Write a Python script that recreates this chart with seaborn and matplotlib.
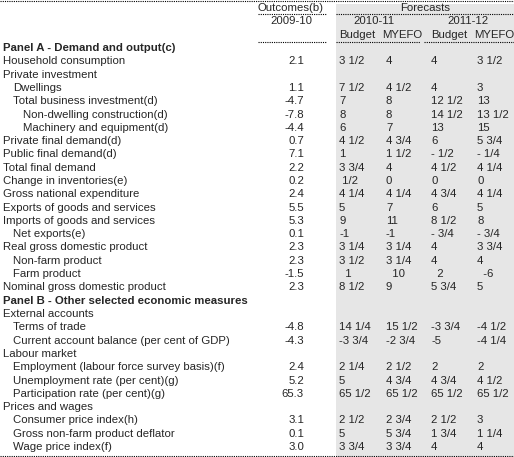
import matplotlib
matplotlib.use("Agg")
import matplotlib.pyplot as plt
import seaborn as sns

sns.set_theme(style="white")
plt.rcParams['font.family'] = ['Liberation Sans', 'DejaVu Sans']

# row labels, indent level, bold flag
labels = [
    "Panel A - Demand and output(c)", "Household consumption", "Private investment",
    "Dwellings", "Total business investment(d)", "Non-dwelling construction(d)",
    "Machinery and equipment(d)", "Private final demand(d)", "Public final demand(d)",
    "Total final demand", "Change in inventories(e)", "Gross national expenditure",
    "Exports of goods and services", "Imports of goods and services", "Net exports(e)",
    "Real gross domestic product", "Non-farm product", "Farm product",
    "Nominal gross domestic product", "Panel B - Other selected economic measures",
    "External accounts", "Terms of trade", "Current account balance (per cent of GDP)",
    "Labour market", "Employment (labour force survey basis)(f)",
    "Unemployment rate (per cent)(g)", "Participation rate (per cent)(g)",
    "Prices and wages", "Consumer price index(h)", "Gross non-farm product deflator",
    "Wage price index(f)",
]
indent = [0, 0, 0, 1, 1, 2, 2, 0, 0, 0, 0, 0, 0, 0, 1, 0, 1, 1, 0,
          0, 0, 1, 1, 0, 1, 1, 1, 0, 1, 1, 1]
bold_rows = [0, 19]

outcome_0910 = ["", "2.1", "", "1.1", "-4.7", "-7.8", "-4.4", "0.7", "7.1", "2.2", "0.2",
                "2.4", "5.5", "5.3", "0.1", "2.3", "2.3", "-1.5", "2.3", "", "",
                "-4.8", "-4.3", "", "2.4", "5.2", "65.3", "", "3.1", "0.1", "3.0"]
budget_1011 = ["", "3 1/2", "", "7 1/2", "7", "8", "6", "4 1/2", "1", "3 3/4", " 1/2",
               "4 1/4", "5", "9", "-1", "3 1/4", "3 1/2", "  1", "8 1/2", "", "",
               "14 1/4", "-3 3/4", "", "2 1/4", "5", "65 1/2", "", "2 1/2", "5", "3 3/4"]
myefo_1011 = ["", "4", "", "4 1/2", "8", "8", "7", "4 3/4", "1 1/2", "4", "0",
              "4 1/4", "7", "11", "-1", "3 1/4", "3 1/4", "  10", "9", "", "",
              "15 1/2", "-2 3/4", "", "2 1/2", "4 3/4", "65 1/2", "", "2 3/4", "5 3/4", "3 3/4"]
budget_1112 = ["", "4", "", "4", "12 1/2", "14 1/2", "13", "6", "- 1/2", "4 1/2", "0",
               "4 3/4", "6", "8 1/2", "- 3/4", "4", "4", "  2", "5 3/4", "", "",
               "-3 3/4", "-5", "", "2", "4 3/4", "65 1/2", "", "2 1/2", "1 3/4", "4"]
myefo_1112 = ["", "3 1/2", "", "3", "13", "13 1/2", "15", "5 3/4", "- 1/4", "4 1/4", "0",
              "4 1/4", "5", "8", "- 3/4", "3 3/4", "4", "  -6", "5", "", "",
              "-4 1/2", "-4 1/4", "", "2", "4 1/2", "65 1/2", "", "3", "1 1/4", "4"]

fig = plt.figure(figsize=(5.14, 4.57), dpi=100)
ax = fig.add_axes([0, 0, 1, 1])
ax.set_xlim(0, 514)
ax.set_ylim(457, 0)
ax.axis("off")

ax.axvspan(336, 514, ymin=0, ymax=1 - 4 / 457, color="#e6e6e6", lw=0, zorder=0)

fs = 8.2
dot = dict(color="black", lw=0.8, ls=(0, (1, 1)))
ax.plot([0, 514], [1, 1], **dot)
ax.plot([0, 514], [456, 456], **dot)
ax.plot([258, 326], [14, 14], **dot)
ax.plot([336, 514], [14, 14], **dot)
ax.plot([258, 326], [42, 42], **dot)
ax.plot([336, 420], [42, 42], **dot)
ax.plot([424, 514], [42, 42], **dot)

ax.text(291, 8, "Outcomes(b)", ha="center", va="center", fontsize=fs)
ax.text(425, 8, "Forecasts", ha="center", va="center", fontsize=fs)
ax.text(291, 21, "2009-10", ha="center", va="center", fontsize=fs)
ax.text(374, 21, "2010-11", ha="center", va="center", fontsize=fs)
ax.text(468, 21, "2011-12", ha="center", va="center", fontsize=fs)
for x in (339, 431):
    ax.text(x, 35, "Budget", ha="left", va="center", fontsize=fs)
for x in (382, 474):
    ax.text(x, 35, "MYEFO", ha="left", va="center", fontsize=fs)

y0, dy = 48, 13.3
for i, lab in enumerate(labels):
    y = y0 + i * dy
    bold = i in bold_rows
    ax.text(3 + indent[i] * 10, y, lab, ha="left", va="center", fontsize=fs,
            fontweight="bold" if bold else "normal")
    ax.text(304, y, outcome_0910[i], ha="right", va="center", fontsize=fs)
    for x, col in zip((339, 386, 431, 477), (budget_1011, myefo_1011, budget_1112, myefo_1112)):
        ax.text(x, y, col[i], ha="left", va="center", fontsize=fs)

fig.savefig("out.png", dpi=100)
